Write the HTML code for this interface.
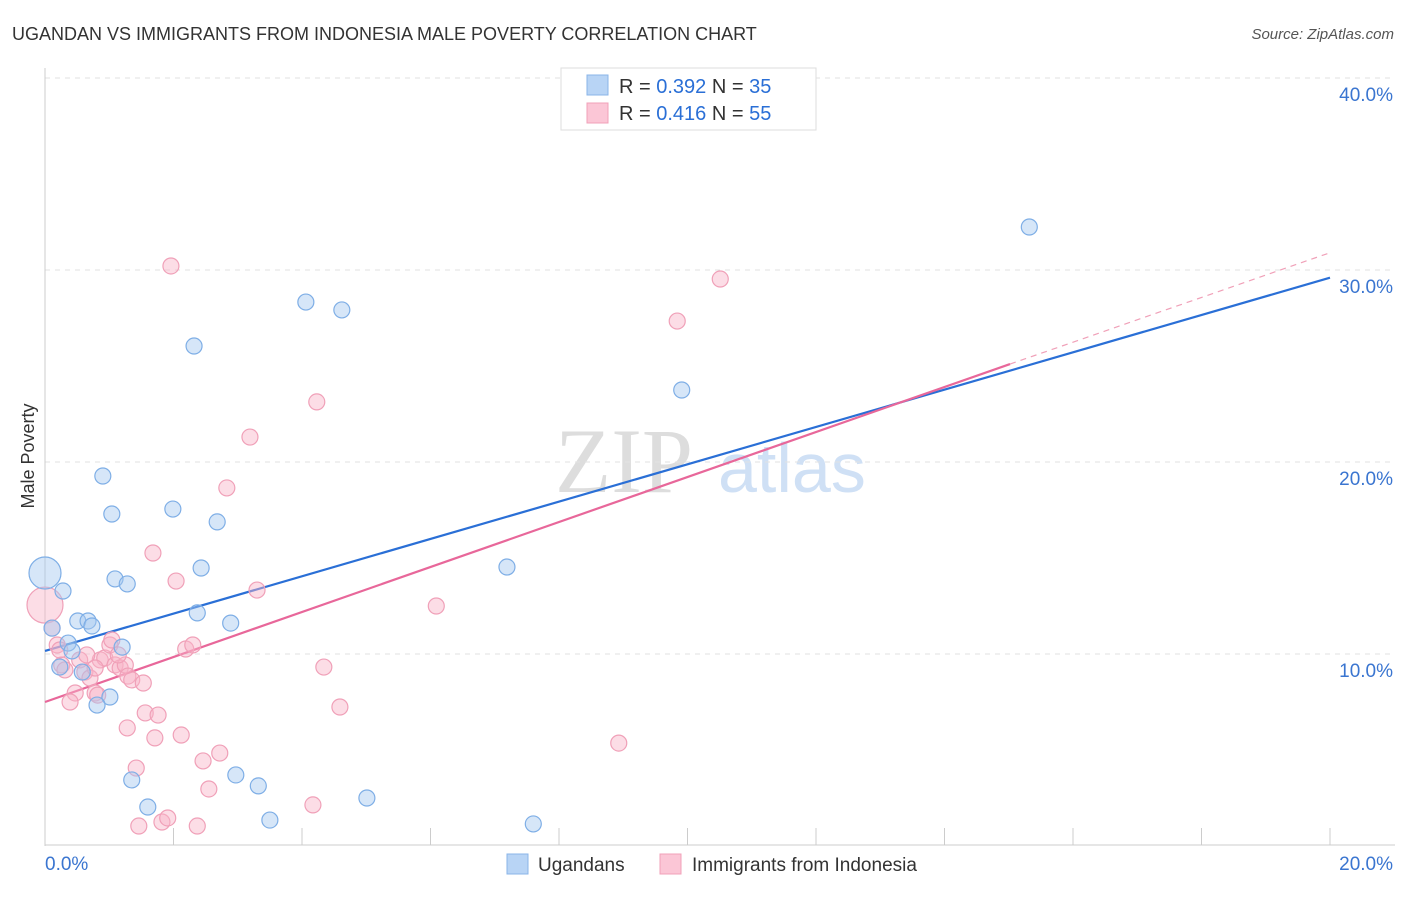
<!DOCTYPE html>
<html><head><meta charset="utf-8"><style>
body{margin:0;background:#fff;font-family:"Liberation Sans",sans-serif}
</style></head><body>
<svg id="chart" width="1406" height="892" xmlns="http://www.w3.org/2000/svg" font-family="Liberation Sans, sans-serif">
<text x="12" y="40" font-size="18" fill="#333">UGANDAN VS IMMIGRANTS FROM INDONESIA MALE POVERTY CORRELATION CHART</text>
<text x="1394" y="39" font-size="15" fill="#555" text-anchor="end" font-style="italic">Source: ZipAtlas.com</text>
<g><text x="555" y="492" font-size="92" font-family="Liberation Serif, serif" fill="#ddd">ZIP</text><text x="718" y="492" font-size="70" fill="#cfe0f5">atlas</text></g>
<g id="grid"></g>
<g id="axes"></g>
<text transform="translate(34,456) rotate(-90)" font-size="18" fill="#333" text-anchor="middle">Male Poverty</text>
<g id="lines"></g>
<g id="points"></g>
<g>
<rect x="561" y="68" width="255" height="62" fill="#fff" stroke="#ddd"/>
<rect x="587" y="75" width="21" height="20" fill="#b8d4f5" stroke="#8ab4e8"/>
<rect x="587" y="103" width="21" height="20" fill="#fbc6d6" stroke="#f0a0b8"/>
<text x="619" y="93" font-size="20" fill="#333">R = <tspan fill="#2a6fd6">0.392</tspan>   N = <tspan fill="#2a6fd6">35</tspan></text>
<text x="619" y="120" font-size="20" fill="#333">R = <tspan fill="#2a6fd6">0.416</tspan>   N = <tspan fill="#2a6fd6">55</tspan></text>
</g>
<g>
<rect x="507" y="854" width="21" height="20" fill="#b8d4f5" stroke="#8ab4e8"/>
<text x="538" y="871" font-size="19" fill="#333">Ugandans</text>
<rect x="660" y="854" width="21" height="20" fill="#fbc6d6" stroke="#f0a0b8"/>
<text x="692" y="871" font-size="19" fill="#333">Immigrants from Indonesia</text>
</g>
</svg>
<script>
const yTicks=[10,20,30,40];
const yTickLabels=["10.0%","20.0%","30.0%","40.0%"];
const xTicks=[0,2,4,6,8,10,12,14,16,18,20];
const ugX=[0,0.28,0.11,0.51,0.67,0.73,0.36,0.42,0.23,0.58,1.20,1.09,1.28,0.90,1.04,1.99,2.68,2.43,2.37,2.89,1.01,0.81,1.35,1.60,2.97,3.32,3.50,5.01,7.60,7.19,9.91,4.06,4.62,2.32,15.32];
const ugY=[14.22,13.28,11.35,11.72,11.72,11.46,10.57,10.16,9.32,9.06,10.36,13.91,13.65,19.27,17.29,17.55,16.88,14.48,12.14,11.61,7.76,7.34,3.44,2.03,3.70,3.13,1.35,2.50,1.15,14.53,23.75,28.33,27.92,26.04,32.24];
const inX=[0,0.11,0.19,0.26,0.31,0.47,0.39,0.54,0.62,0.70,0.78,0.82,0.86,0.93,1.01,1.09,1.17,1.25,1.29,1.35,1.53,0.65,1.04,1.68,2.04,2.19,2.30,1.56,1.76,1.71,2.12,1.28,1.42,1.46,1.82,1.91,2.37,2.55,2.46,2.72,2.83,3.19,1.96,3.30,4.23,4.34,4.59,4.17,6.09,8.93,9.84,10.51,0.23,0.78,1.14];
const inY=[12.55,11.35,10.47,9.43,9.17,7.97,7.5,9.69,9.06,8.75,7.97,7.86,9.69,9.79,10.47,9.43,9.27,9.43,8.85,8.65,8.49,9.95,10.73,15.26,13.80,10.26,10.47,6.93,6.82,5.63,5.78,6.15,4.06,1.04,1.25,1.46,1.04,2.97,4.43,4.84,18.65,21.30,30.21,13.33,23.13,9.32,7.24,2.14,12.50,5.36,27.34,29.53,10.21,9.27,9.95];
const ugLine=[0,10.16,20,29.6];
const inLine=[0,7.5,15.02,25.1,20,30.9];
const sx=v=>45+v*64.25, sy=v=>846-v*19.2;
const NS="http://www.w3.org/2000/svg";
function mk(p,t,a){const e=document.createElementNS(NS,t);for(const k in a)e.setAttribute(k,a[k]);p.appendChild(e);return e;}
const grid=document.getElementById('grid'),axes=document.getElementById('axes');
yTicks.forEach((t,i)=>{
 const l=mk(grid,'line',{x1:45,x2:1395,y1:sy(t),y2:sy(t),stroke:'#e2e2e2','stroke-dasharray':'5,5'});
 
 
 const tx=mk(axes,'text',{x:1393,y:sy(t)+23,'font-size':19,fill:'#3a75d0','text-anchor':'end'});
 tx.textContent=yTickLabels[i];
 
 
});
mk(axes,'line',{x1:45,x2:45,y1:68,y2:846,stroke:'#ccc'});
mk(axes,'line',{x1:45,x2:1395,y1:845,y2:845,stroke:'#ccc'});
xTicks.forEach(t=>{const l=mk(axes,'line',{x1:sx(t),x2:sx(t),y1:828,y2:845,stroke:'#ccc'});
 
 });
const x0=mk(axes,'text',{x:45,y:870,'font-size':19,fill:'#3a75d0'});x0.textContent='0.0%';


const x1=mk(axes,'text',{x:1393,y:870,'font-size':19,fill:'#3a75d0','text-anchor':'end'});x1.textContent='20.0%';


const pts=document.getElementById('points');
function dot(x,y,f,s,r,name){const c=mk(pts,'circle',{cx:sx(x),cy:sy(y),r:r,fill:f,stroke:s,'stroke-width':1.2});
 
 }
inX.forEach((x,i)=>dot(x,inY[i],'rgba(248,180,200,0.45)','#f0a0b8',i==0?18:8,'indonesia-point'));
ugX.forEach((x,i)=>dot(x,ugY[i],'rgba(165,200,240,0.45)','#7eaee6',i==0?16:8,'ugandan-point'));
const lines=document.getElementById('lines');
const b=mk(lines,'line',{x1:sx(ugLine[0]),y1:sy(ugLine[1]),x2:sx(ugLine[2]),y2:sy(ugLine[3]),stroke:'#2a6fd6','stroke-width':2.2});


const p=mk(lines,'line',{x1:sx(inLine[0]),y1:sy(inLine[1]),x2:sx(inLine[2]),y2:sy(inLine[3]),stroke:'#e8679a','stroke-width':2.2});


const pd=mk(lines,'line',{x1:sx(inLine[2]),y1:sy(inLine[3]),x2:sx(inLine[4]),y2:sy(inLine[5]),stroke:'#f0a0b8','stroke-width':1.2,'stroke-dasharray':'6,5'});


</script>
</body></html>
